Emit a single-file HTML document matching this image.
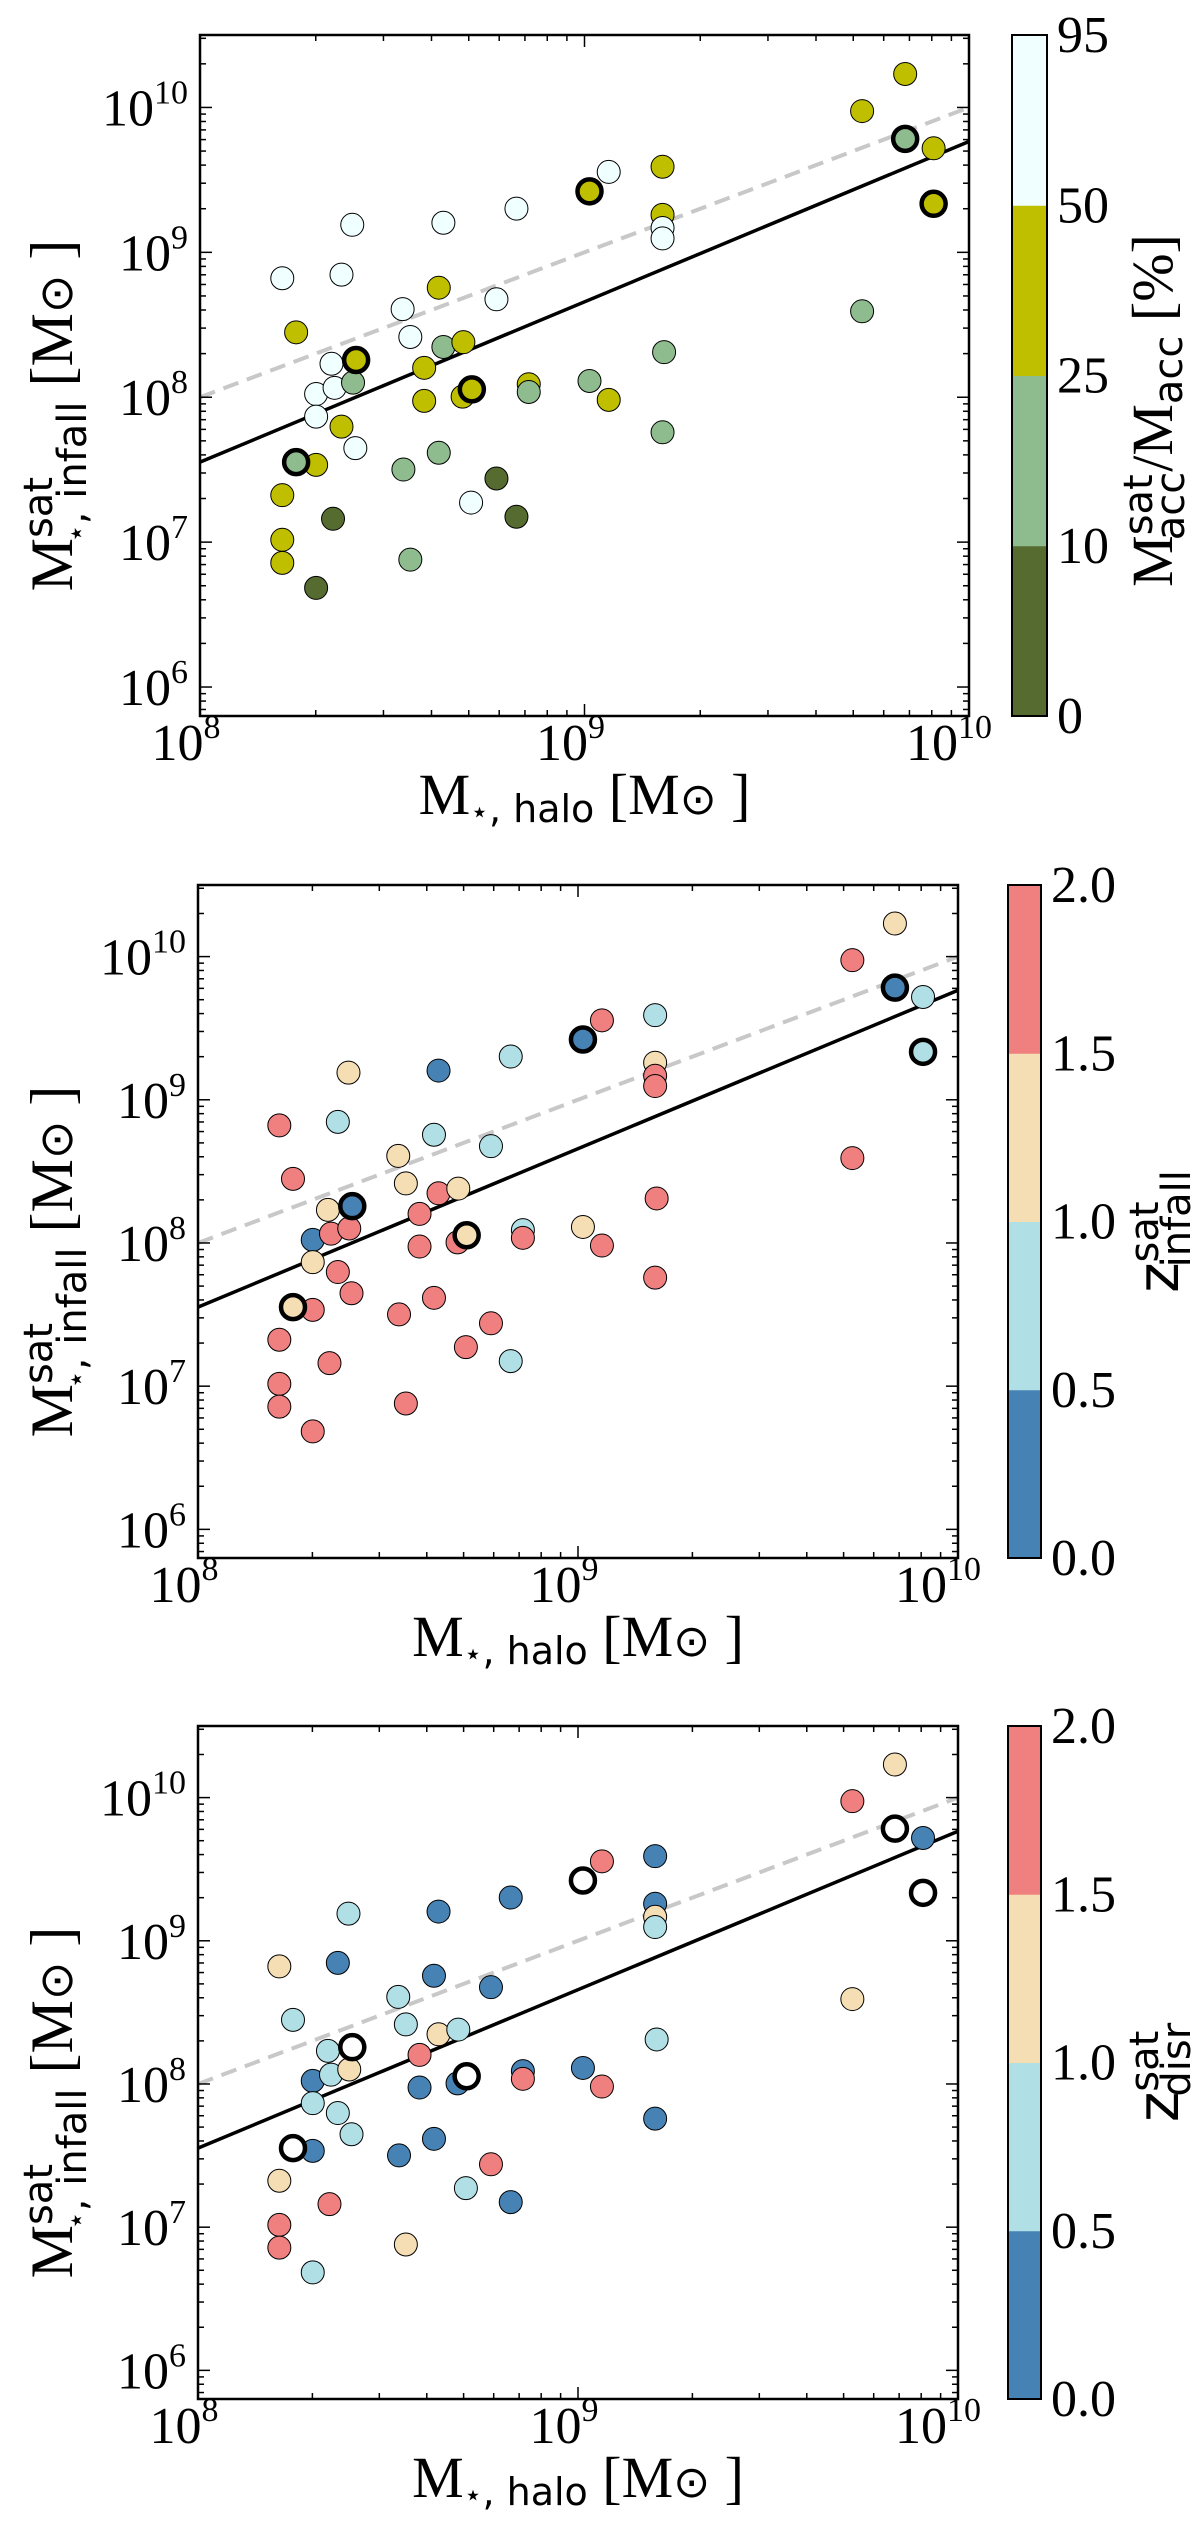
<!DOCTYPE html>
<html><head><meta charset="utf-8"><style>
html,body{margin:0;padding:0;background:#fff;}
svg{display:block;}
text{font-family:"Liberation Serif",serif;fill:#000;}
.sans{font-family:"DejaVu Sans","Liberation Sans",sans-serif;}
</style></head><body>
<svg id="fig" xmlns="http://www.w3.org/2000/svg" width="1200" height="2527" viewBox="0 0 1200 2527"></svg>
<script>
// ---- data (log10 masses) ----
const logMhalo = [8.214,8.250,8.214,8.214,8.214,8.250,8.302,8.302,8.302,8.302,8.342,8.350,8.346,8.368,8.368,8.396,8.398,8.406,8.404,8.527,8.529,8.547,8.547,8.583,8.583,8.621,8.621,8.633,8.633,8.685,8.683,8.705,8.707,8.771,8.771,8.823,8.823,8.855,8.855,9.013,9.013,9.063,9.063,9.203,9.203,9.203,9.203,9.207,9.203,9.722,9.722,9.834,9.834,9.908,9.908];
const logMinfall = [8.821,8.448,7.324,7.016,6.857,7.552,7.533,6.684,8.022,7.866,8.231,8.065,7.161,8.846,7.797,9.190,8.101,8.257,7.649,8.608,7.501,8.416,6.879,8.203,7.975,8.756,7.617,9.204,8.347,8.380,8.004,7.273,8.054,8.676,7.439,9.302,7.175,8.090,8.036,9.421,8.112,7.982,9.555,9.591,9.259,9.168,9.096,8.311,7.758,9.975,8.593,10.231,9.783,9.718,9.335];
// accreted fraction in percent
const fAcc = [70,40,40,40,40,20,40,5,70,70,70,70,5,70,40,70,20,40,70,70,20,70,20,40,40,40,20,70,20,40,40,70,40,70,5,70,5,40,20,40,20,40,70,40,40,70,70,20,20,40,20,40,20,40,40];
const zInfall = [1.8,1.8,1.8,1.8,1.8,1.2,1.8,1.8,0.2,1.2,1.2,1.8,1.8,0.8,1.8,1.2,1.8,0.2,1.8,1.2,1.8,1.2,1.8,1.8,1.8,0.8,1.8,0.2,1.8,1.2,1.8,1.8,1.2,0.8,1.8,0.8,0.8,0.8,1.8,0.2,1.2,1.8,1.8,0.8,1.2,1.8,1.8,1.8,1.8,1.8,1.8,1.2,0.2,0.8,0.8];
const zDisr = [1.2,0.8,1.2,1.8,1.8,-1,0.2,0.8,0.2,0.8,0.8,0.8,1.8,0.2,0.8,0.8,1.2,-1,0.8,0.8,0.2,0.8,1.2,1.8,0.2,0.2,0.2,0.2,1.2,0.8,0.2,0.8,-1,0.2,1.8,0.2,0.2,0.2,1.8,-1,0.2,1.8,1.8,0.2,0.2,1.2,0.8,0.8,0.2,1.8,1.2,1.2,-1,0.2,-1];
const bold = [5,17,32,39,52,54];
const fitLine = [7.552, 9.765]; // log y at x=1e8 and 1e10
const oneToOne = [8.0, 10.0];
const xTicks = [8,9,10];
const yTicks = [6,7,8,9,10];
const fBounds = [0,10,25,50,95];
const fLabels = ["0","10","25","50","95"];
const fColors = ["#556b2f","#8fbc8f","#bfbf00","#f0ffff"];
const zBounds = [0,0.5,1.0,1.5,2.0];
const zLabels = ["0.0","0.5","1.0","1.5","2.0"];
const zColors = ["#4682b4","#b0e0e6","#f5deb3","#f08080"];

const NS="http://www.w3.org/2000/svg";
const svg=document.getElementById('fig');
function mk(tag,attrs,parent){const e=document.createElementNS(NS,tag);for(const k in attrs)e.setAttribute(k,attrs[k]);(parent||svg).appendChild(e);return e;}

const panels=[
 {L:200,R:969,T:35,B:716,cbL:1012,cbR:1047,vals:fAcc,bounds:fBounds,labels:fLabels,colors:fColors,title:'frac',name:'panel-accreted-fraction'},
 {L:198,R:958,T:885,B:1558,cbL:1008,cbR:1041,vals:zInfall,bounds:zBounds,labels:zLabels,colors:zColors,title:'infall',name:'panel-z-infall'},
 {L:198,R:958,T:1726,B:2399,cbL:1008,cbR:1041,vals:zDisr,bounds:zBounds,labels:zLabels,colors:zColors,title:'disr',name:'panel-z-disr'}
];
const YMIN=5.8,YMAX=10.5,XMIN=8,XMAX=10;

function colorFor(v,bounds,colors){ if(v<0) return 'none'; for(let i=0;i<colors.length;i++){ if(v<bounds[i+1]) return colors[i]; } return colors[colors.length-1]; }

panels.forEach(p=>{
  const g=mk('g',{});
  
  
  const sx=v=>p.L+(v-XMIN)/(XMAX-XMIN)*(p.R-p.L);
  const sy=v=>p.B-(v-YMIN)/(YMAX-YMIN)*(p.B-p.T);
  const dl=mk('line',{x1:sx(XMIN),y1:sy(oneToOne[0]),x2:sx(XMAX),y2:sy(oneToOne[1]),stroke:'#c8c8c8','stroke-width':4,'stroke-dasharray':'16,9'},g);
  
  
  const fl=mk('line',{x1:sx(XMIN),y1:sy(fitLine[0]),x2:sx(XMAX),y2:sy(fitLine[1]),stroke:'#000','stroke-width':3.5},g);
  
  
  const order=[...logMhalo.keys()].filter(i=>!bold.includes(i)).concat(bold);
  order.forEach(i=>{
    const isB=bold.includes(i);
    let fill=colorFor(p.vals[i],p.bounds,p.colors);
    if(fill==='none') fill='#fff';
    const c=mk('circle',{cx:sx(logMhalo[i]),cy:sy(logMinfall[i]),r:isB?12:11.5,fill:fill,stroke:'#000','stroke-width':isB?4.5:1},g);
    
    
  });
  const fr=mk('rect',{x:p.L,y:p.T,width:p.R-p.L,height:p.B-p.T,fill:'none',stroke:'#000','stroke-width':2.5},g);
  
  
  for(let d=XMIN; d<XMAX; d++){ for(let m=1;m<=9;m++){ const v=d+Math.log10(m); const len=m===1?12:6; const x=sx(v);
    mk('line',{x1:x,y1:p.B,x2:x,y2:p.B-len,stroke:'#000','stroke-width':1.5},g);
    mk('line',{x1:x,y1:p.T,x2:x,y2:p.T+len,stroke:'#000','stroke-width':1.5},g);} }
  for(let d=5; d<=10; d++){ for(let m=1;m<=9;m++){ const v=d+Math.log10(m); if(v<YMIN||v>YMAX) continue; const len=m===1?12:6; const y=sy(v);
    mk('line',{x1:p.L,y1:y,x2:p.L+len,y2:y,stroke:'#000','stroke-width':1.5},g);
    mk('line',{x1:p.R,y1:y,x2:p.R-len,y2:y,stroke:'#000','stroke-width':1.5},g);} }
  xTicks.forEach(t=>{
    const tx=mk('text',{x:sx(t)-(t===10?20:14),y:p.B+44,'font-size':52,'text-anchor':'middle'},g);
    
    
    tx.innerHTML='10<tspan dy="-22" font-size="34">'+t+'</tspan>';
  });
  yTicks.forEach(t=>{
    const tx=mk('text',{x:p.L-12,y:sy(t)+18,'font-size':52,'text-anchor':'end'},g);
    
    
    tx.innerHTML='10<tspan dy="-22" font-size="34">'+t+'</tspan>';
  });
  const xl=mk('text',{x:(p.L+p.R)/2,y:p.B+98,'font-size':58,'text-anchor':'middle'},g);
  
  
  xl.innerHTML='M<tspan dy="8" font-size="30">⋆</tspan><tspan class="sans" font-size="38">, halo</tspan><tspan dy="-8"> [M</tspan><tspan font-size="44">⊙</tspan> ]';
  const cy=(p.T+p.B)/2+40;
  const yl=mk('text',{x:0,y:0,'font-size':60,'text-anchor':'middle',transform:'translate(72,'+cy+') rotate(-90)'},g);
  
  
  yl.innerHTML='M<tspan class="sans" dy="-20" font-size="40">sat</tspan><tspan dx="-66" dy="34" font-size="30">⋆</tspan><tspan class="sans" font-size="40">, infall</tspan><tspan dy="-14"> [M</tspan><tspan font-size="46">⊙</tspan> ]';
  const cbH=p.B-p.T, n=p.colors.length;
  p.colors.forEach((col,i)=>{
    const r=mk('rect',{x:p.cbL,y:p.B-(i+1)*cbH/n,width:p.cbR-p.cbL,height:cbH/n+0.5,fill:col},g);
    
    
  });
  const cbf=mk('rect',{x:p.cbL,y:p.T,width:p.cbR-p.cbL,height:cbH,fill:'none',stroke:'#000','stroke-width':2},g);
  
  
  p.labels.forEach((lab,i)=>{
    const t=mk('text',{x:p.cbR+10,y:p.B-i*cbH/n+17,'font-size':52},g);
    
    
    t.textContent=lab;
  });
  const ty=(p.T+p.B)/2;
  let tt;
  if(p.title==='frac'){
    tt=mk('text',{x:0,y:0,'font-size':58,'text-anchor':'middle',transform:'translate(1172,'+(ty+35)+') rotate(-90)'},g);
    tt.innerHTML='M<tspan class="sans" dy="-20" font-size="40">sat</tspan><tspan class="sans" dx="-66" dy="32" font-size="40">acc</tspan><tspan dy="-12">/M</tspan><tspan class="sans" dy="10" font-size="40">acc</tspan><tspan dy="-10"> [%]</tspan>';
  } else {
    tt=mk('text',{x:0,y:0,'font-size':58,'text-anchor':'middle',transform:'translate(1178,'+(ty+10)+') rotate(-90)'},g);
    tt.innerHTML='<tspan class="sans">z</tspan><tspan class="sans" dy="-20" font-size="40">sat</tspan><tspan class="sans" dx="-66" dy="32" font-size="40">'+p.title+'</tspan>';
  }
  
  
});
</script>
</body></html>
